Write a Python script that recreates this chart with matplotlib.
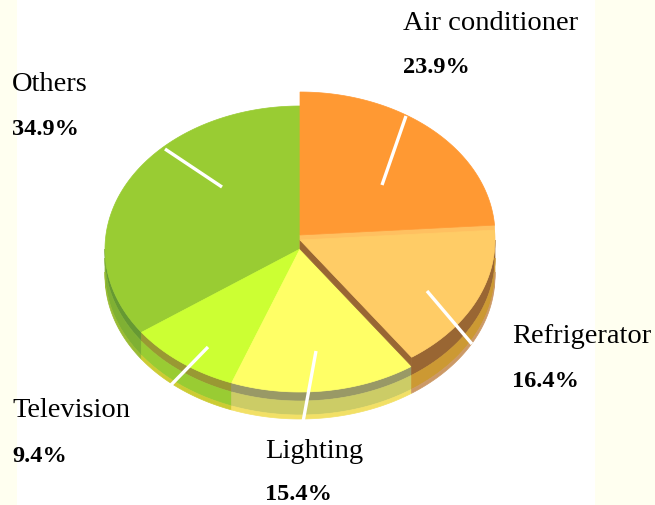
import numpy as np
import matplotlib
matplotlib.use("Agg")
import matplotlib.pyplot as plt
from matplotlib.patches import Polygon, Rectangle

# ---- data ----
labels = ["Air conditioner", "Refrigerator", "Lighting", "Television", "Others"]
values = [23.9, 16.4, 15.4, 9.4, 34.9]
top_colors = ["#FF9933", "#FFCC66", "#FFFF66", "#CCFF33", "#99CC33"]
# side wall bands (top -> bottom)
wall_colors = [
    ["#FFC060", "#CC8844", "#E89955"],
    ["#996633", "#CC9933", "#CC9966"],
    ["#999966", "#CCCC66", "#F2E066"],
    ["#999933", "#99CC33", "#CCCC33"],
    ["#669933", "#7FB033", "#99BB33"],
]
raise_px = [14, 9, 0, 0, 0]

# ---- layout (pixel space) ----
W, H = 655, 506
CX, CY, RX, RY, DEPTH = 300, 250, 195, 143, 27
label_pos = {
    "Air conditioner": (403, 30, 73),
    "Refrigerator": (512, 343, 387),
    "Lighting": (265, 458, 500),
    "Television": (12, 417, 462),
    "Others": (12, 91, 135),
}
leaders = {
    "Air conditioner": ((382, 186), (406, 117)),
    "Refrigerator": ((427, 292), (472, 345)),
    "Lighting": ((316, 352), (303, 423)),
    "Television": ((208, 348), (170, 387)),
    "Others": ((222, 188), (165, 150)),
}

fig = plt.figure(figsize=(W / 100, H / 100), dpi=100)
ax = fig.add_axes([0, 0, 1, 1])
ax.set_xlim(0, W)
ax.set_ylim(H, 0)
ax.axis("off")
fig.patch.set_facecolor("white")

# cream side strips
ax.add_patch(Rectangle((0, 0), 17, H, color="#FFFFF0", zorder=0, lw=0))
ax.add_patch(Rectangle((595, 0), W - 595, H, color="#FFFFF0", zorder=0, lw=0))


def rim(t_deg, dy=0.0, r=1.0):
    t = np.radians(t_deg)
    return CX + RX * r * np.cos(t), CY - dy - RY * r * np.sin(t)


# slice angles (clockwise from top)
starts, ends = [], []
a = 90.0
for v in values:
    starts.append(a)
    a -= 360.0 * v / sum(values)
    ends.append(a)

order = [4, 0, 3, 2, 1]  # back to front
z = 1
for i in order:
    s, e, dy = starts[i], ends[i], raise_px[i]
    # outer wall (front half)
    lo, hi = max(e, -180.0), min(s, 0.0)
    if lo < hi:
        t = np.linspace(hi, lo, 120)
        xs, ytop = rim(t, dy)
        _, ybase = rim(t, 0)
        ybot = ybase + DEPTH
        total = ybot - ytop
        cols = wall_colors[i]
        fr = [0.0, (dy + 9) / (dy + DEPTH), (dy + DEPTH - 4) / (dy + DEPTH), 1.0]
        for k, c in enumerate(cols):
            y1 = ytop + total * fr[k]
            y2 = ytop + total * fr[k + 1]
            pts = np.vstack([np.column_stack([xs, y1]), np.column_stack([xs[::-1], y2[::-1]])])
            ax.add_patch(Polygon(pts, closed=True, fc=c, ec=c, lw=0.5, zorder=z))
        z += 1
    # radial wall for raised slices (end edge)
    if dy > 0:
        xr, yr = rim(e, dy)
        xb, yb = rim(e, 0)
        pts = [(CX, CY - dy), (xr, yr), (xb, yb), (CX, CY)]
        ax.add_patch(Polygon(pts, closed=True, fc=wall_colors[i][0], ec=wall_colors[i][0], lw=0.5, zorder=z))
        z += 1
    # top surface
    t = np.linspace(s, e, 200)
    xs, ys = rim(t, dy)
    pts = np.vstack([[CX, CY - dy], np.column_stack([xs, ys])])
    ax.add_patch(Polygon(pts, closed=True, fc=top_colors[i], ec=top_colors[i], lw=0.5, zorder=z))
    z += 1

# leader lines
for lab in labels:
    (x0, y0), (x1, y1) = leaders[lab]
    ax.plot([x0, x1], [y0, y1], color="white", lw=2.4, solid_capstyle="butt", zorder=50)

# labels
for lab, v in zip(labels, values):
    x, yb1, yb2 = label_pos[lab]
    ax.text(x, yb1, lab, fontsize=20.5, family="Liberation Serif", va="baseline", ha="left", zorder=60)
    ax.text(x, yb2, f"{v:.1f}%", fontsize=17.5, family="Liberation Serif", fontweight="bold",
            va="baseline", ha="left", zorder=60)

fig.savefig("out.png", dpi=100, facecolor="white")
